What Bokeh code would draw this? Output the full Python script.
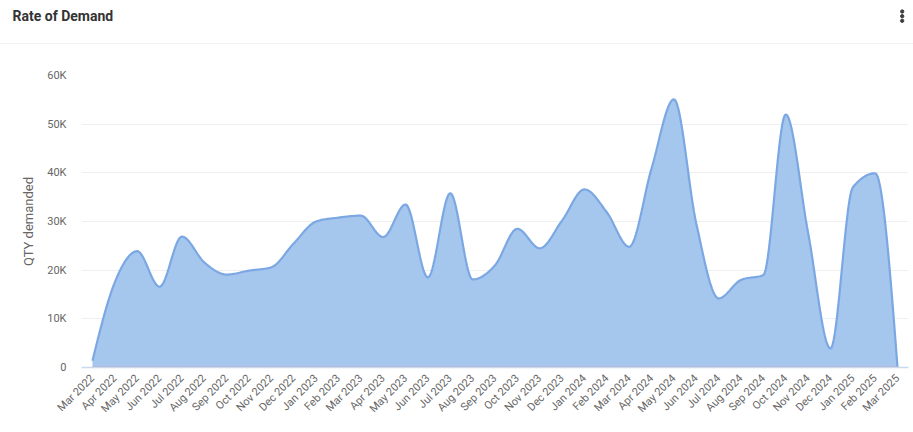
import math
import numpy as np
from bokeh.plotting import figure
from bokeh.layouts import column
from bokeh.models import Range1d, FixedTicker, ColumnDataSource, Label, Span
from bokeh.embed import file_html
from bokeh.resources import INLINE

# ---------------- data ----------------
months = ["Mar 2022", "Apr 2022", "May 2022", "Jun 2022", "Jul 2022", "Aug 2022",
          "Sep 2022", "Oct 2022", "Nov 2022", "Dec 2022", "Jan 2023", "Feb 2023",
          "Mar 2023", "Apr 2023", "May 2023", "Jun 2023", "Jul 2023", "Aug 2023",
          "Sep 2023", "Oct 2023", "Nov 2023", "Dec 2023", "Jan 2024", "Feb 2024",
          "Mar 2024", "Apr 2024", "May 2024", "Jun 2024", "Jul 2024", "Aug 2024",
          "Sep 2024", "Oct 2024", "Nov 2024", "Dec 2024", "Jan 2025", "Feb 2025",
          "Mar 2025"]
qty_demanded = [1400, 17500, 23900, 16600, 26900, 21600, 19100, 19900, 20600, 25500,
                30000, 30800, 31200, 26800, 33500, 18500, 35800, 18100, 21000, 28500,
                24500, 30200, 36600, 31900, 24800, 40900, 55100, 29600, 14200, 18000,
                19000, 52000, 27700, 3900, 37000, 39900, 0]
second_series = [0, 0, 0, 0, 0, 0, 0, 0, 0, 0, 0, 0, 0, 0, 0, 0, 0, 0, 0, 0,
                 0, 0, 0, 0, 0, 0, 0, 0, 0, 0, 0, 0, 0, 0, 0, 0, 0]
y_ticks = [0, 10000, 20000, 30000, 40000, 50000, 60000]
y_tick_labels = ["0", "10K", "20K", "30K", "40K", "50K", "60K"]
chart_title = "Rate of Demand"
y_title = "QTY demanded"

FONT = "Roboto"


def monotone_curve(xs, ys, n=20):
    xs = np.asarray(xs, float)
    ys = np.asarray(ys, float)
    h = np.diff(xs)
    s = np.diff(ys) / h
    m = np.zeros_like(ys)
    for i in range(1, len(ys) - 1):
        h0, h1 = h[i - 1], h[i]
        s0, s1 = s[i - 1], s[i]
        p = (s0 * h1 + s1 * h0) / (h0 + h1)
        m[i] = (np.sign(s0) + np.sign(s1)) * min(abs(s0), abs(s1), 0.5 * abs(p))
    m[0] = (3 * s[0] - m[1]) / 2
    m[-1] = (3 * s[-1] - m[-2]) / 2
    out_x, out_y = [], []
    for i in range(len(xs) - 1):
        t = np.linspace(0, 1, n, endpoint=(i == len(xs) - 2))
        h00 = 2 * t**3 - 3 * t**2 + 1
        h10 = t**3 - 2 * t**2 + t
        h01 = -2 * t**3 + 3 * t**2
        h11 = t**3 - t**2
        out_x.extend(xs[i] + t * h[i])
        out_y.extend(h00 * ys[i] + h10 * h[i] * m[i] + h01 * ys[i + 1] + h11 * h[i] * m[i + 1])
    return np.array(out_x), np.maximum(np.array(out_y), 0)


x_idx = list(range(len(months)))
cx, cy = monotone_curve(x_idx, qty_demanded)
curve = ColumnDataSource(dict(x=cx, y=cy))
pts = ColumnDataSource(dict(x=x_idx, zero=second_series, q=qty_demanded))

# ---------------- header ----------------
W = 913
HH = 44
hdr = figure(width=W, height=HH, x_range=Range1d(0, W), y_range=Range1d(HH, 0),
             output_backend="svg", toolbar_location=None, min_border=0,
             x_axis_type=None, y_axis_type=None)
hdr.frame_align = False
hdr.grid.visible = False
hdr.outline_line_color = None
hdr.border_fill_color = "white"
hdr.background_fill_color = "white"
hdr.add_layout(Label(x=12, y=15.5, text=chart_title, text_font=FONT,
                     text_font_style="bold", text_font_size="14px", text_color="#333333",
                     text_baseline="middle", text_align="left"))
hdr.scatter(x=[901.7, 901.7, 901.7], y=[11, 15.7, 20.3], size=3.3, marker="circle",
            color="#3d3d3d")
hdr.add_layout(Span(location=43.5, dimension="width", line_color="#e4e4e4", line_width=1))

# ---------------- main chart ----------------
p = figure(width=W, height=432 - HH, x_range=Range1d(-0.49, 36.49), y_range=Range1d(0, 60000),
           output_backend="svg", toolbar_location=None,
           min_border_left=81, min_border_right=5, min_border_top=31, min_border_bottom=65)
p.frame_align = False
p.outline_line_color = None
p.border_fill_color = "white"
p.background_fill_color = "white"

p.varea(x="x", y1=0, y2="y", source=curve, fill_color="#a5c6ed", fill_alpha=1.0)
p.line(x="x", y="y", source=curve, line_color="#7ba8e2", line_width=2.2)
p.line(x="x", y="zero", source=pts, line_color="#e8736e", line_width=1.5)

# axes
p.xaxis.ticker = FixedTicker(ticks=x_idx)
p.xaxis.major_label_overrides = {i: m for i, m in enumerate(months)}
p.xaxis.major_label_orientation = math.pi / 4
p.xaxis.major_label_text_font = FONT
p.xaxis.major_label_text_font_size = "11px"
p.xaxis.major_label_text_color = "#666666"
p.xaxis.major_label_standoff = 9
p.xaxis.major_tick_out = 0
p.xaxis.major_tick_in = 0
p.xaxis.minor_tick_out = 0
p.xaxis.axis_line_color = "#c8d9f0"
p.xaxis.axis_line_width = 1.5
p.xaxis.major_tick_line_color = None
p.xaxis.minor_tick_line_color = None

p.yaxis.ticker = FixedTicker(ticks=y_ticks)
p.yaxis.major_label_overrides = {t: l for t, l in zip(y_ticks, y_tick_labels)}
p.yaxis.major_label_text_font = FONT
p.yaxis.major_label_text_font_size = "11px"
p.yaxis.major_label_text_color = "#666666"
p.yaxis.major_label_standoff = 15
p.yaxis.major_tick_out = 0
p.yaxis.major_tick_in = 0
p.yaxis.minor_tick_out = 0
p.yaxis.axis_line_color = None
p.yaxis.major_tick_line_color = None
p.yaxis.minor_tick_line_color = None
p.yaxis.axis_label = y_title
p.yaxis.axis_label_text_font = FONT
p.yaxis.axis_label_text_font_style = "normal"
p.yaxis.axis_label_text_font_size = "13px"
p.yaxis.axis_label_text_color = "#666666"
p.yaxis.axis_label_standoff = 8

p.xgrid.visible = False
p.ygrid.grid_line_color = "#efefef"
p.ygrid.grid_line_width = 1

layout = column(hdr, p, spacing=0)
open("out.html", "w").write(file_html(layout, INLINE))
